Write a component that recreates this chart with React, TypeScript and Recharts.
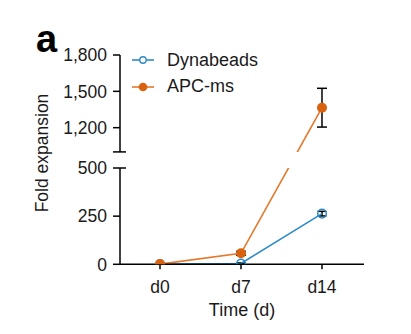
import React from "react";
import { ErrorBar, Legend, Line, LineChart, XAxis, YAxis } from "recharts";

if (typeof document !== "undefined") {
  document.body.style.margin = "0";
}

const days = ["d0", "d7", "d14"];
const dynabeads = [1, 4, 263];
const dynabeadsErr = [0, 3, 12];
const apcMs = [1, 57, 1365];
const apcMsErr = [0, 10, 160];
const lowerTicks = [0, 250, 500];
const upperTicks = [1000, 1200, 1500, 1800];

const BLUE = "#2e8bc9";
const ORANGE = "#e5782a";
const ORANGE_DOT = "#d9620f";
const INK = "#1a1a1a";
const FONT = "'Liberation Sans', Arial, Helvetica, sans-serif";

// broken axis: 0-500 drawn at full scale, 1000-1800 compressed above a gap
const LOW_MAX = 500;
const HIGH_MIN = 1000;
const HIGH_MAX = 1800;
const GAP = 83;
const HIGH_RATIO = 0.629;
const PX_PER_UNIT = 0.1926;

const toAxis = (v: number): number => {
  if (v <= LOW_MAX) return v;
  if (v < HIGH_MIN) return LOW_MAX + ((v - LOW_MAX) / (HIGH_MIN - LOW_MAX)) * GAP;
  return LOW_MAX + GAP + (v - HIGH_MIN) * HIGH_RATIO;
};

const errRange = (v: number, e: number): [number, number] => [
  toAxis(v) - toAxis(v - e),
  toAxis(v + e) - toAxis(v),
];

const data = days.map((day, i) => ({
  day,
  dynabeads: toAxis(dynabeads[i]),
  dynabeadsErr: errRange(dynabeads[i], dynabeadsErr[i]),
  apcMs: toAxis(apcMs[i]),
  apcMsErr: errRange(apcMs[i], apcMsErr[i]),
}));

const series = [
  { key: "dynabeads", name: "Dynabeads", color: BLUE, filled: false },
  { key: "apcMs", name: "APC-ms", color: ORANGE, filled: true },
];

const WIDTH = 411;
const MARGIN_LEFT = 60;
const Y_WIDTH = 60;
const MARGIN_RIGHT = 47;
const X_PADDING = { left: 40, right: 42 };
const TICK_SIZE = 7;
const TICK_MARGIN = 6;
const CAP = 6;
const TICK_FONT = 17.5;

const upperDomain: [number, number] = [toAxis(HIGH_MIN), toAxis(HIGH_MAX)];
const upperPlotH = (upperDomain[1] - upperDomain[0]) * PX_PER_UNIT;
const lowerPlotH = LOW_MAX * PX_PER_UNIT;

const UPPER_TOP_MARGIN = 55;
const UPPER_BOTTOM_MARGIN = 5;
const upperHeight = UPPER_TOP_MARGIN + upperPlotH + UPPER_BOTTOM_MARGIN;

const LOWER_TOP = 158;
const LOWER_TOP_MARGIN = 10;
const X_AXIS_H = 52;
const lowerHeight = 334 - LOWER_TOP;
const lowerBottomMargin = lowerHeight - LOWER_TOP_MARGIN - lowerPlotH - X_AXIS_H;

function makeTick(realTicks: number[], breakValue: number) {
  return (props: any) => {
    const { x, y, payload } = props;
    const real = realTicks.find((t) => Math.abs(toAxis(t) - payload.value) < 1e-6);
    const axisX = x + TICK_SIZE + TICK_MARGIN;
    const showLabel = real !== undefined && real !== HIGH_MIN;
    return (
      <g>
        {real === breakValue && (
          <line x1={axisX} x2={axisX + CAP} y1={y} y2={y} stroke="#000" strokeWidth={1.5} />
        )}
        {showLabel && (
          <text x={x} y={y} dy="0.355em" textAnchor="end" fontSize={TICK_FONT} fill={INK}>
            {real!.toLocaleString("en-US")}
          </text>
        )}
      </g>
    );
  };
}

function LegendContent(props: any) {
  const payload = props.payload || [];
  const rows = series
    .map((s) => ({ s, entry: payload.find((p: any) => p.value === s.name) }))
    .filter((row) => row.entry);
  return (
    <div style={{ fontFamily: FONT }}>
      {rows.map(({ s, entry }) => (
        <div
          key={s.key}
          style={{ display: "flex", alignItems: "center", height: 26.7, lineHeight: "26.7px" }}
        >
          <svg width={35} height={12} style={{ display: "block" }}>
            <line x1={0} x2={22} y1={6} y2={6} stroke={s.color} strokeWidth={1.6} />
            {s.filled ? (
              <circle cx={11} cy={6} r={4.3} fill={ORANGE_DOT} />
            ) : (
              <circle cx={11} cy={6} r={3.2} fill="#fff" stroke={s.color} strokeWidth={1.4} />
            )}
          </svg>
          <span style={{ fontSize: 18, color: INK }}>{entry.value}</span>
        </div>
      ))}
    </div>
  );
}

function renderLines() {
  return [
    <Line
      key="dynabeads"
      type="linear"
      dataKey="dynabeads"
      name="Dynabeads"
      stroke={BLUE}
      strokeWidth={1.6}
      dot={{ r: 4.3, fill: "none", stroke: BLUE, strokeWidth: 1.5 }}
      activeDot={false}
      isAnimationActive={false}
    >
      <ErrorBar dataKey="dynabeadsErr" width={4.5} stroke="#000" strokeWidth={1.5} direction="y" />
    </Line>,
    <Line
      key="apcMs"
      type="linear"
      dataKey="apcMs"
      name="APC-ms"
      stroke={ORANGE}
      strokeWidth={1.6}
      dot={{ r: 5, fill: ORANGE_DOT, stroke: ORANGE_DOT, strokeWidth: 0 }}
      activeDot={false}
      isAnimationActive={false}
    >
      <ErrorBar dataKey="apcMsErr" width={5} stroke="#000" strokeWidth={1.5} direction="y" />
    </Line>,
  ];
}

export default function App() {
  return (
    <div style={{ position: "relative", width: WIDTH, height: 334, fontFamily: FONT, background: "#fff" }}>
      <div style={{ position: "absolute", left: 0, top: 0 }}>
        <LineChart
          width={WIDTH}
          height={upperHeight}
          data={data}
          margin={{ top: UPPER_TOP_MARGIN, right: MARGIN_RIGHT, bottom: UPPER_BOTTOM_MARGIN, left: MARGIN_LEFT }}
        >
          <XAxis dataKey="day" hide padding={X_PADDING} />
          <YAxis
            type="number"
            width={Y_WIDTH}
            domain={upperDomain}
            allowDataOverflow
            ticks={upperTicks.map(toAxis)}
            interval={0}
            stroke="#000"
            axisLine={{ stroke: "#000", strokeWidth: 1.5 }}
            tickLine={{ stroke: "#000", strokeWidth: 1.5 }}
            tickSize={TICK_SIZE}
            tickMargin={TICK_MARGIN}
            tick={makeTick(upperTicks, HIGH_MIN)}
          />
          <Legend
            layout="vertical"
            align="center"
            verticalAlign="middle"
            wrapperStyle={{ left: 132, top: 46.6, width: 200 }}
            content={LegendContent}
          />
          {renderLines()}
        </LineChart>
      </div>
      <div style={{ position: "absolute", left: 0, top: LOWER_TOP }}>
        <LineChart
          width={WIDTH}
          height={lowerHeight}
          data={data}
          margin={{ top: LOWER_TOP_MARGIN, right: MARGIN_RIGHT, bottom: lowerBottomMargin, left: MARGIN_LEFT }}
        >
          <XAxis
            dataKey="day"
            height={X_AXIS_H}
            padding={X_PADDING}
            stroke="#000"
            axisLine={{ stroke: "#000", strokeWidth: 1.5 }}
            tickLine={{ stroke: "#000", strokeWidth: 1.5 }}
            tickSize={5}
            tickMargin={11}
            tick={{ fontSize: TICK_FONT, fill: INK }}
            interval={0}
            label={{ value: "Time (d)", position: "insideBottom", offset: 0, fontSize: 18, fill: INK }}
          />
          <YAxis
            type="number"
            width={Y_WIDTH}
            domain={[0, LOW_MAX]}
            allowDataOverflow
            ticks={lowerTicks.map(toAxis)}
            interval={0}
            stroke="#000"
            axisLine={{ stroke: "#000", strokeWidth: 1.5 }}
            tickLine={{ stroke: "#000", strokeWidth: 1.5 }}
            tickSize={TICK_SIZE}
            tickMargin={TICK_MARGIN}
            tick={makeTick(lowerTicks, LOW_MAX)}
          />
          {renderLines()}
        </LineChart>
      </div>
      <svg
        width={WIDTH}
        height={334}
        style={{ position: "absolute", left: 0, top: 0, pointerEvents: "none" }}
      >
        <text x={36} y={52} fontSize={38} fontWeight="bold" fill="#000">
          a
        </text>
        <text
          x={48}
          y={153}
          transform="rotate(-90, 48, 153)"
          textAnchor="middle"
          fontSize={17.5}
          fill={INK}
        >
          Fold expansion
        </text>
      </svg>
    </div>
  );
}
